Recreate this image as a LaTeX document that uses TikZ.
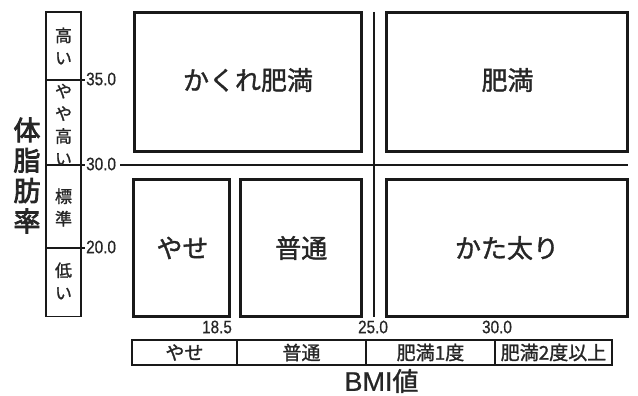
\documentclass[tikz,border=0pt]{standalone}
\usepackage{fontspec}
\setmainfont{Noto Sans CJK JP}
\newfontfamily\cjk{Noto Sans CJK JP}[FakeBold=1.3]
\newfontfamily\cjkb{Noto Sans CJK JP}[FakeBold=3]
\newfontfamily\numf{Liberation Sans}[FakeStretch=0.85,FakeBold=0.6]
\newfontfamily\latf{Liberation Sans}[FakeBold=0.6]
\begin{document}
\begin{tikzpicture}[x=1pt,y=-1pt,
  bigbox/.style={draw=black!90,line width=3pt},
  thin/.style={draw=black!90,line width=1.5pt},
  biglabel/.style={font=\cjk\fontsize{26}{30}\selectfont,text=black!85,inner sep=0pt},
  numlabel/.style={font=\numf\fontsize{18}{20}\selectfont,text=black!85,inner sep=0pt},
  celllabel/.style={font=\cjk\fontsize{19}{21}\selectfont,text=black!85,inner sep=0pt},
  vlabel/.style={font=\cjk\fontsize{17}{22.5}\selectfont,text=black!85,align=center,inner sep=0pt},
]
\useasboundingbox (0,0) rectangle (638,396);
% main boxes
\draw[bigbox] (134.2,12.5) rectangle (361.8,151.5);
\draw[bigbox] (386.5,12.5) rectangle (627.5,151.5);
\draw[bigbox] (133.8,179.5) rectangle (229.5,316);
\draw[bigbox] (240.8,179.5) rectangle (361.8,316);
\draw[bigbox] (386.5,179.5) rectangle (627.5,316);
\node[biglabel] (kakure) at (248,80) {かくれ肥満};
\node[biglabel] (himan) at (507.5,80) {肥満};
\node[biglabel] (yase) at (182.5,248) {やせ};
\node[biglabel] (futsu) at (301.3,248) {普通};
\node[biglabel] (katabutori) at (507,248) {かた太り};
% cross lines
\coordinate (vtop) at (374,12);
\coordinate (vbot) at (374,317);
\coordinate (hl) at (120,165);
\coordinate (hr) at (628,165);
\draw[line width=1.6pt,black!90] (vtop) -- (vbot);
\draw[line width=1.6pt,black!90] (hl) -- (hr);
% left column
\draw[thin] (46,12) rectangle (81,316.5);
\draw[thin] (46,80) -- (85,80);
\draw[thin] (46,165) -- (85,165);
\draw[thin] (46,248) -- (85,248);
\node[vlabel] (takai) at (63.5,46) {高\\い};
\node[vlabel] (yayatakai) at (63.5,124.5) {や\\や\\高\\い};
\node[vlabel] (hyojun) at (63.5,207.5) {標\\準};
\node[vlabel] (hikui) at (63.5,281) {低\\い};
\node[numlabel,anchor=west] (n35) at (86,79) {35.0};
\node[numlabel,anchor=west] (n30) at (86,164) {30.0};
\node[numlabel,anchor=west] (n20) at (86,247) {20.0};
\node[font=\cjkb\fontsize{27}{30.3}\selectfont,text=black!85,align=center,inner sep=0pt] (taishibo) at (27,175.5) {体\\脂\\肪\\率};
% bottom numbers
\node[numlabel] (b185) at (217,327) {18.5};
\node[numlabel] (b25) at (373,327) {25.0};
\node[numlabel] (b30) at (497,327) {30.0};
% BMI table
\draw[line width=2pt,black!90] (132,340) rectangle (612,365);
\draw[thin] (237,340) -- (237,365);
\draw[thin] (366,340) -- (366,365);
\draw[thin] (495,340) -- (495,365);
\node[celllabel] (c1) at (184.5,352.5) {やせ};
\node[celllabel] (c2) at (301.5,352.5) {普通};
\node[celllabel] (c3) at (430.5,352.5) {肥満1度};
\node[celllabel] (c4) at (553.5,352.5) {肥満2度以上};
\node[text=black!85,inner sep=0pt] (bmi) at (381.5,381) {{\latf\fontsize{27}{28}\selectfont BMI}{\cjk\fontsize{26}{28}\selectfont 値}};
\end{tikzpicture}
\end{document}
